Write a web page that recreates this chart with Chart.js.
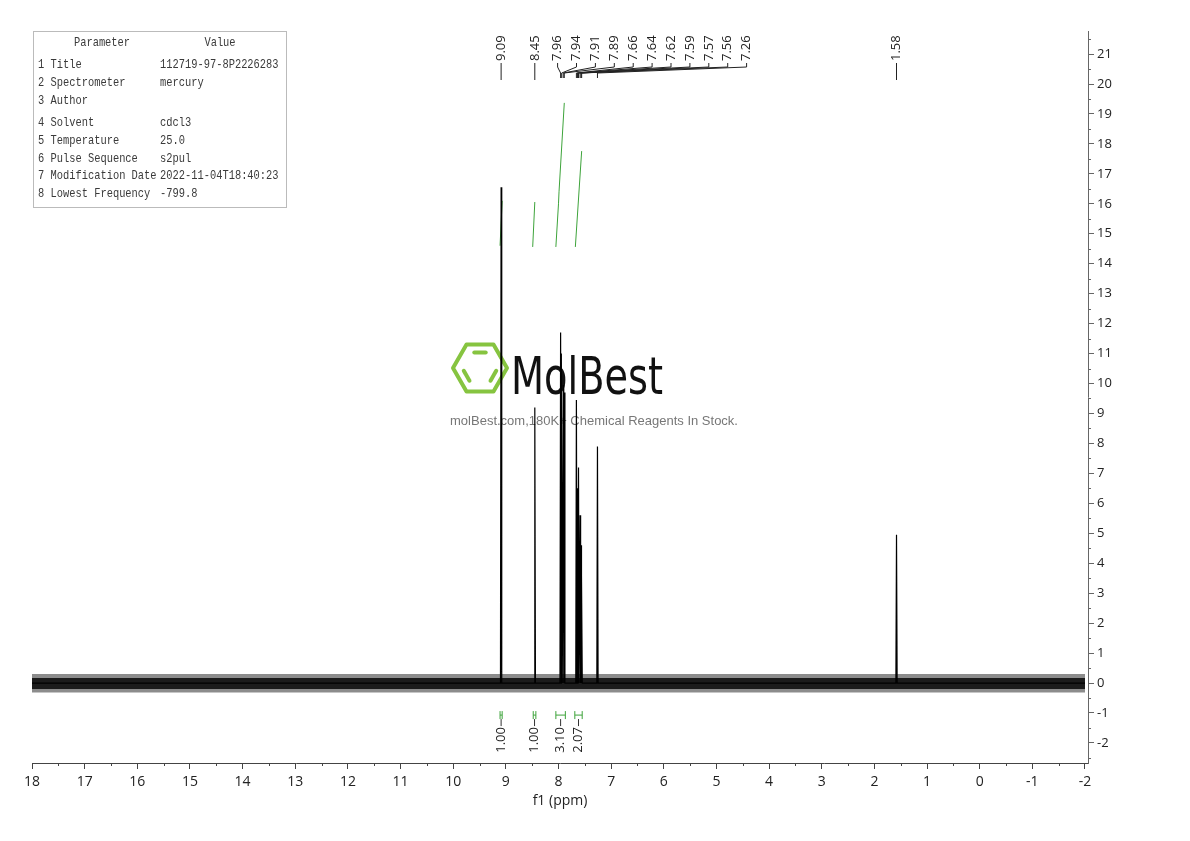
<!DOCTYPE html>
<html>
<head>
<meta charset="UTF-8">
<title>1H NMR 112719-97-8</title>
<script src="https://cdn.jsdelivr.net/npm/chart.js"></script>
<style>
  body { margin: 0; background: #fff; }
  #wrap { width: 1190px; height: 841px; }
</style>
</head>
<body>
<div id="wrap"><canvas id="nmr" width="1190" height="841"></canvas></div>
<script>
// peaks: shift (ppm) and height (axis units)
const peakShifts = [9.09, 8.45, 7.96, 7.94, 7.91, 7.89, 7.66, 7.64, 7.62, 7.59, 7.57, 7.56, 7.26, 1.58];
const peakHeights = [16.55, 9.2, 11.7, 11.0, 9.95, 9.7, 9.45, 6.5, 7.2, 5.6, 4.6, 3.6, 7.9, 4.95];
const peakLabels = ['9.09', '8.45', '7.96', '7.94', '7.91', '7.89', '7.66', '7.64', '7.62', '7.59', '7.57', '7.56', '7.26', '1.58'];

// integrals
const intFrom = [9.11, 8.48, 8.05, 7.69];
const intTo = [9.07, 8.43, 7.87, 7.55];
const intValues = ['1.00', '1.00', '3.10', '2.07'];
const intCurves = [
  [[9.11, 14.6], [9.07, 16.1]],
  [[8.49, 14.56], [8.45, 16.06]],
  [[8.05, 14.56], [8.0, 16.0], [7.99, 16.4], [7.89, 19.37]],
  [[7.68, 14.56], [7.56, 17.76]]
];

// noise around the baseline: dense core and thinner fringe
const noiseCore = [0.17, -0.2];
const noiseFringe = [0.3, -0.32];

const paramNames = ['1 Title', '2 Spectrometer', '3 Author', '4 Solvent', '5 Temperature', '6 Pulse Sequence', '7 Modification Date', '8 Lowest Frequency'];
const paramValues = ['112719-97-8P2226283', 'mercury', '', 'cdcl3', '25.0', 's2pul', '2022-11-04T18:40:23', '-799.8'];

const X_MIN = -2.057, X_MAX = 18;
const Y_MIN = -2.67, Y_MAX = 21.77;

function spectrumPoints() {
  const hw = 0.012;
  const pts = [{x: X_MAX, y: 0}];
  peakShifts.forEach((s, i) => {
    pts.push({x: s + hw, y: 0}, {x: s, y: peakHeights[i]}, {x: s - hw, y: 0});
  });
  pts.push({x: -2, y: 0});
  return pts;
}

function band(lim, color) {
  return [
    { data: [{x: X_MAX, y: lim[0]}, {x: -2, y: lim[0]}], borderWidth: 0, borderColor: color,
      backgroundColor: color, fill: '+1', pointRadius: 0 },
    { data: [{x: X_MAX, y: lim[1]}, {x: -2, y: lim[1]}], borderWidth: 0, borderColor: color,
      fill: false, pointRadius: 0 }
  ];
}

const datasets = [].concat(
  band(noiseFringe, 'rgba(0,0,0,0.45)'),
  band(noiseCore, 'rgba(0,0,0,0.8)'),
  [{
    data: spectrumPoints(),
    borderColor: '#000', borderWidth: 1.2, fill: false, pointRadius: 0
  }]
);
intCurves.forEach(c => {
  datasets.push({
    data: c.map(p => ({x: p[0], y: p[1]})),
    borderColor: '#3da33a', borderWidth: 1, fill: false, pointRadius: 0
  });
});

function drawWatermark(ctx) {
  const cx = 480, cy = 368, R = 27;
  const v = [];
  for (let k = 0; k < 6; k++) {
    const a = k * Math.PI / 3;
    v.push([cx + R * Math.cos(a), cy + R * Math.sin(a)]);
  }
  ctx.save();
  ctx.strokeStyle = '#86c440';
  ctx.lineWidth = 4;
  ctx.lineJoin = 'round';
  ctx.beginPath();
  v.forEach((p, i) => i ? ctx.lineTo(p[0], p[1]) : ctx.moveTo(p[0], p[1]));
  ctx.closePath();
  ctx.stroke();
  // inner bonds
  ctx.lineCap = 'round';
  [[4, 5], [2, 3], [0, 1]].forEach(e => {
    const a = v[e[0]], b = v[e[1]];
    const f = 0.66;
    const ax = cx + (a[0] - cx) * f, ay = cy + (a[1] - cy) * f;
    const bx = cx + (b[0] - cx) * f, by = cy + (b[1] - cy) * f;
    ctx.beginPath();
    ctx.moveTo(ax + (bx - ax) * 0.18, ay + (by - ay) * 0.18);
    ctx.lineTo(ax + (bx - ax) * 0.82, ay + (by - ay) * 0.82);
    ctx.stroke();
  });
  // logo word
  ctx.font = "52px 'DejaVu Sans'";
  ctx.fillStyle = '#111';
  ctx.textBaseline = 'alphabetic';
  const w = ctx.measureText('MolBest').width;
  ctx.translate(511, 394);
  ctx.scale(152 / w, 1);
  ctx.fillText('MolBest', 0, 0);
  ctx.restore();

  ctx.save();
  ctx.font = "13px 'Liberation Sans'";
  ctx.fillStyle = '#777';
  ctx.textAlign = 'center';
  ctx.textBaseline = 'middle';
  ctx.fillText('molBest.com,180K+ Chemical Reagents In Stock.', 594, 421);
  ctx.restore();
}

function tableText(ctx, txt, x, y, align) {
  ctx.save();
  ctx.translate(x, y);
  ctx.scale(0.8, 1);
  ctx.textAlign = align;
  ctx.fillText(txt, 0, 0);
  ctx.restore();
}

function drawParamTable(ctx) {
  ctx.save();
  ctx.strokeStyle = '#bbb';
  ctx.lineWidth = 1;
  ctx.strokeRect(33.5, 31.5, 253, 176);
  ctx.font = "13px 'Liberation Mono'";
  ctx.fillStyle = '#3a3a3a';
  ctx.textBaseline = 'middle';
  tableText(ctx, 'Parameter', 102, 43, 'center');
  tableText(ctx, 'Value', 220, 43, 'center');
  const rowsY = [65, 83, 101, 123, 141, 159, 176, 194];
  paramNames.forEach((n, i) => {
    tableText(ctx, n, 38, rowsY[i], 'left');
    tableText(ctx, paramValues[i], 160, rowsY[i], 'left');
  });
  ctx.restore();
}

const decorPlugin = {
  id: 'decor',
  beforeDatasetsDraw(chart) {
    drawWatermark(chart.ctx);
  },
  afterDraw(chart) {
    const ctx = chart.ctx;
    const xs = chart.scales.x, ys = chart.scales.y;
    const area = chart.chartArea;
    ctx.save();

    // minor ticks
    ctx.strokeStyle = '#444';
    ctx.lineWidth = 1;
    ctx.beginPath();
    for (let t = -1.5; t < 18; t += 1) {
      const px = Math.round(xs.getPixelForValue(t)) + 0.5;
      ctx.moveTo(px, area.bottom);
      ctx.lineTo(px, area.bottom + 3);
    }
    ctx.stroke();
    ctx.strokeStyle = '#666';
    ctx.beginPath();
    for (let t = -2.5; t < 22; t += 1) {
      const py = Math.round(ys.getPixelForValue(t)) + 0.5;
      ctx.moveTo(area.right, py);
      ctx.lineTo(area.right + 3, py);
    }
    ctx.stroke();

    // peak labels along the top
    ctx.font = "13px 'Open Sans'";
    ctx.fillStyle = '#222';
    ctx.strokeStyle = '#222';
    ctx.textBaseline = 'middle';
    const clusterStart = 2, clusterEnd = 12;
    peakShifts.forEach((s, i) => {
      const px = xs.getPixelForValue(s);
      let lx = px;
      if (i >= clusterStart && i <= clusterEnd) {
        lx = xs.getPixelForValue(peakShifts[clusterStart]) - 3 + (i - clusterStart) * 18.9;
      }
      ctx.beginPath();
      if (lx === px) {
        ctx.moveTo(px, 63);
        ctx.lineTo(px, 80);
      } else {
        ctx.moveTo(lx, 63);
        ctx.lineTo(lx, 67);
        ctx.lineTo(px, 73);
        ctx.lineTo(px, 78);
      }
      ctx.stroke();
      ctx.save();
      ctx.translate(lx, 61);
      ctx.rotate(-Math.PI / 2);
      ctx.textAlign = 'left';
      ctx.fillText(peakLabels[i], 0, 0);
      ctx.restore();
    });

    // integration brackets and values
    const by = ys.getPixelForValue(-1.07);
    intFrom.forEach((f, i) => {
      const x1 = xs.getPixelForValue(f), x2 = xs.getPixelForValue(intTo[i]);
      const mid = (x1 + x2) / 2;
      ctx.strokeStyle = '#3da33a';
      ctx.beginPath();
      ctx.moveTo(x1, by - 4); ctx.lineTo(x1, by + 4);
      ctx.moveTo(x1, by); ctx.lineTo(x2, by);
      ctx.moveTo(x2, by - 4); ctx.lineTo(x2, by + 4);
      ctx.stroke();
      ctx.strokeStyle = '#333';
      ctx.beginPath();
      ctx.moveTo(mid, by + 4); ctx.lineTo(mid, by + 11);
      ctx.stroke();
      ctx.save();
      ctx.translate(mid, by + 12);
      ctx.rotate(-Math.PI / 2);
      ctx.textAlign = 'right';
      ctx.fillStyle = '#222';
      ctx.fillText(intValues[i], 0, 0);
      ctx.restore();
    });
    ctx.restore();

    drawParamTable(ctx);
  }
};

Chart.defaults.font.family = "'Open Sans', 'Noto Sans', sans-serif";

const chart = new Chart(document.getElementById('nmr').getContext('2d'), {
  type: 'line',
  data: { datasets: datasets },
  options: {
    responsive: false,
    animation: false,
    layout: { padding: { left: 32, top: 31, right: 0, bottom: 0 } },
    plugins: { legend: { display: false }, tooltip: { enabled: false } },
    scales: {
      x: {
        type: 'linear', reverse: true, min: X_MIN, max: X_MAX,
        grid: { drawOnChartArea: false, drawTicks: true, tickLength: 6, color: '#444' },
        border: { display: true, color: '#444', width: 1 },
        ticks: { stepSize: 1, includeBounds: false, autoSkip: false, maxRotation: 0, color: '#222', font: { size: 14 }, padding: 5 },
        title: { display: true, text: 'f1 (ppm)', color: '#222', font: { size: 14 }, padding: { top: 0, bottom: 32 } },
        afterFit: s => { s.height = 78; }
      },
      y: {
        type: 'linear', position: 'right', min: Y_MIN, max: Y_MAX,
        grid: { drawOnChartArea: false, drawTicks: true, tickLength: 6, color: '#666' },
        border: { display: true, color: '#666', width: 1 },
        ticks: { stepSize: 1, includeBounds: false, color: '#222', font: { size: 13 }, padding: 3 },
        afterFit: s => { s.width = 102; }
      }
    }
  },
  plugins: [decorPlugin]
});
</script>
</body>
</html>
